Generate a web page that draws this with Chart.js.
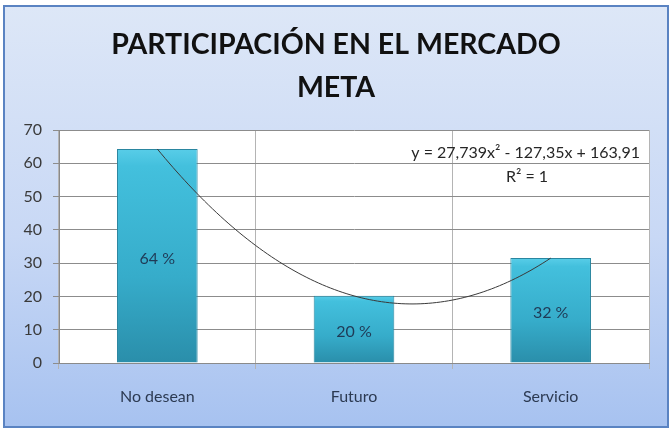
<!DOCTYPE html>
<html>
<head>
<meta charset="utf-8">
<script src="https://cdn.jsdelivr.net/npm/chart.js@4.4.1/dist/chart.umd.min.js"></script>
<style>
  html, body { margin: 0; padding: 0; background: #fff; }
  #frame {
    position: absolute; left: 3px; top: 5px; width: 662px; height: 419px;
    border: 2px solid #5a83c2;
    background: linear-gradient(to bottom, #dde7f7 0%, #c8d8f5 55%, #a7c2f0 100%);
  }
  #wrap { position: absolute; left: 0; top: 0; width: 671px; height: 436px; }
</style>
</head>
<body>
<div id="frame"></div>
<div id="wrap"><canvas id="myChart" width="671" height="436"></canvas></div>
<script>
'use strict';

let categories = ['No desean', 'Futuro', 'Servicio'];
let values = [64.3, 20.17, 31.51];
let valueLabels = ['64 %', '20 %', '32 %'];
let trendCoef = [27.739, -127.35, 163.91]; // a x^2 + b x + c, x = 1..3
let yTicks = [0, 10, 20, 30, 40, 50, 60, 70];

let fontName = 'Lato, "Open Sans", sans-serif';

function barFill(ctx) {
    let chart = ctx.chart;
    if (!chart.chartArea || ctx.parsed === undefined) return '#3ab4d4';
    let yScale = chart.scales.y;
    let top = yScale.getPixelForValue(ctx.parsed.y);
    let bottom = yScale.getPixelForValue(0);
    let g = chart.ctx.createLinearGradient(0, top, 0, bottom);
    g.addColorStop(0, '#58cde8');
    g.addColorStop(0.08, '#43c0dd');
    g.addColorStop(0.6, '#36acca');
    g.addColorStop(1, '#2a8eaa');
    return g;
}

// trendline, equation and bar labels
let extrasPlugin = {
    id: 'extras',
    afterDatasetsDraw(chart) {
        let c = chart.ctx;
        let xs = chart.scales.x;
        let ys = chart.scales.y;
        let area = chart.chartArea;

        // polynomial trendline between first and last category
        c.save();
        c.beginPath();
        for (let i = 0; i <= 100; i++) {
            let t = i / 100 * (categories.length - 1);
            let x = t + 1;
            let v = trendCoef[0] * x * x + trendCoef[1] * x + trendCoef[2];
            let px = xs.getPixelForValue(t);
            let py = ys.getPixelForValue(v);
            if (i === 0) c.moveTo(px, py); else c.lineTo(px, py);
        }
        c.strokeStyle = '#3a3a3a';
        c.lineWidth = 1;
        c.stroke();

        // value labels inside bars
        let meta = chart.getDatasetMeta(0);
        c.fillStyle = '#1f3a56';
        c.font = '16px ' + fontName;
        c.textAlign = 'center';
        c.textBaseline = 'middle';
        meta.data.forEach(function (bar, i) {
            let mid = (bar.y + bar.base) / 2 + 3;
            c.fillText(valueLabels[i], bar.x, mid);
        });

        // equation
        c.fillStyle = '#262626';
        c.font = '16px ' + fontName;
        c.textAlign = 'right';
        c.fillText('y = 27,739x² - 127,35x + 163,91', area.right - 9, area.top + 23);
        c.textAlign = 'center';
        c.fillText('R² = 1', area.right - 122, area.top + 47);
        c.restore();
    }
};

let ctx = document.getElementById('myChart').getContext('2d');

let myChart = new Chart(ctx, {
    type: 'bar',
    data: {
        labels: categories,
        datasets: [{
            data: values,
            backgroundColor: barFill,
            borderColor: '#2a86a0',
            borderWidth: 1,
            categoryPercentage: 1,
            barPercentage: 0.41
        }]
    },
    plugins: [extrasPlugin, {
        id: 'whiteArea',
        beforeDraw(chart) {
            let a = chart.chartArea;
            chart.ctx.save();
            chart.ctx.fillStyle = '#ffffff';
            chart.ctx.fillRect(a.left, a.top, a.right - a.left, a.bottom - a.top);
            chart.ctx.restore();
        }
    }],
    options: {
        responsive: false,
        animation: false,
        events: [],
        layout: { padding: { left: 23, right: 22, top: 0, bottom: 23 } },
        plugins: {
            legend: { display: false },
            tooltip: { enabled: false },
            title: {
                display: true,
                text: ['PARTICIPACIÓN EN EL MERCADO', 'META'],
                color: '#111111',
                font: { family: fontName, size: 28.5, weight: 'bold', lineHeight: 1.509 },
                padding: { top: 23, bottom: 21 }
            }
        },
        scales: {
            x: {
                grid: {
                    offset: true,
                    color: '#b4b4b4',
                    tickLength: 6,
                    drawTicks: true
                },
                border: { color: '#8a8a8a' },
                ticks: {
                    color: '#2c3a52',
                    font: { family: fontName, size: 16 },
                    padding: 18
                },
                afterFit(scale) { scale.height = 50; }
            },
            y: {
                min: 0,
                max: 70,
                afterBuildTicks(scale) {
                    scale.ticks = yTicks.map(function (v) { return { value: v }; });
                },
                grid: {
                    color: '#8c8c8c',
                    tickLength: 6
                },
                border: { color: '#8a8a8a' },
                ticks: {
                    color: '#3a3a3a',
                    font: { family: fontName, size: 16 },
                    padding: 11
                },
                afterFit(scale) { scale.width = 36; }
            }
        }
    }
});
</script>
</body>
</html>
